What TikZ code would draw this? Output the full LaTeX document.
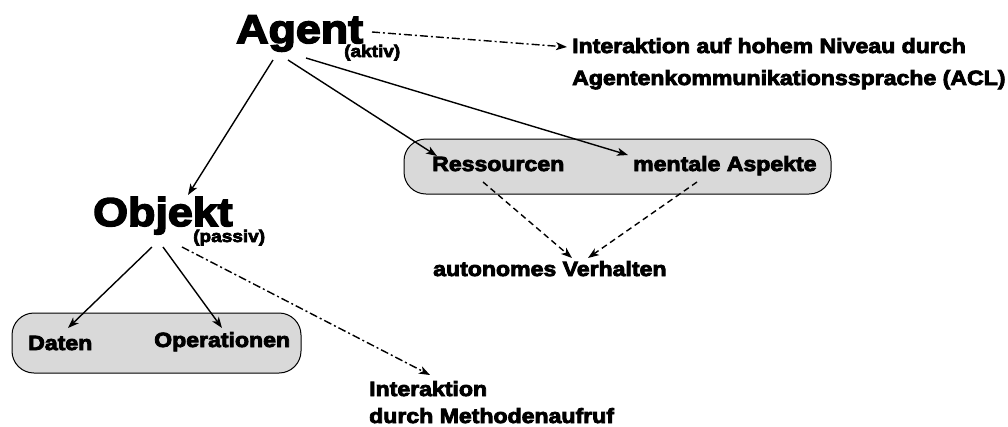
\documentclass[tikz,border=0pt]{standalone}
\usepackage{fontspec}
\setmainfont{Liberation Sans}[FakeStretch=1.12, BoldFeatures={FakeBold=4}]
\usetikzlibrary{arrows.meta}

\tikzset{
  lbl/.style={inner sep=0pt, anchor=base west, font=\bfseries\fontsize{20.6}{24}\selectfont},
  big/.style={inner sep=0pt, anchor=base west, font=\bfseries\fontsize{40}{48}\selectfont},
  sub/.style={inner sep=0pt, anchor=base west, font=\bfseries\fontsize{17}{20}\selectfont},
  group/.style={draw=black, line width=1pt, fill=gray!30, rounded corners=22pt},
  link/.style={line width=1.4pt, -{Stealth[length=11pt,width=8pt,inset=3pt]}},
  hint/.style={link, dash pattern=on 6pt off 4pt},
  talk/.style={link, dash pattern=on 8pt off 3pt on 2pt off 3pt},
}

\begin{document}
\begin{tikzpicture}[x=1pt, y=-1pt]
\useasboundingbox (0,0) rectangle (1008,426);

% grey groups behind the labels
\draw[group] (404,139) rectangle (831,194);
\draw[group] (12,313) rectangle (301,373);

% main labels
\node[big] (agent) at (236,43) {Agent};
\node[sub] (aktiv) at (344,57) {(aktiv)};
\node[big] (objekt) at (93,226) {Objekt};
\node[sub] (passiv) at (193,242) {(passiv)};

\node[lbl] (acl1) at (572,53) {Interaktion auf hohem Niveau durch};
\node[lbl] (acl2) at (572,85) {Agentenkommunikationssprache (ACL)};

\node[lbl] (res) at (432,171) {Ressourcen};
\node[lbl] (ment) at (633,171) {mentale Aspekte};
\node[lbl] (auto) at (433,276) {autonomes Verhalten};

\node[lbl] (daten) at (28,350) {Daten};
\node[lbl] (ops) at (154,347) {Operationen};

\node[lbl] (meth1) at (369,396) {Interaktion};
\node[lbl] (meth2) at (369,423) {durch Methodenaufruf};

% structure of the agent
\draw[link] ([shift={(37,17)}]agent.base west) -- ([shift={(95,-31)}]objekt.base west);
\draw[link] ([shift={(52,17)}]agent.base west) -- ([shift={(5,-15)}]res.base west);
\draw[link] ([shift={(70,15)}]agent.base west) -- ([shift={(-5,-16)}]ment.base west);

% agent communication
\draw[talk] ([shift={(136,-11)}]agent.base west) -- ([shift={(-5,-6)}]acl1.base west);

% what the agent's parts lead to
\draw[hint] ([shift={(51,11)}]res.base west) -- ([shift={(139,-18)}]auto.base west);
\draw[hint] ([shift={(64,11)}]ment.base west) -- ([shift={(155,-18)}]auto.base west);

% structure of the object
\draw[link] ([shift={(59,21)}]objekt.base west) -- ([shift={(40,-22)}]daten.base west);
\draw[link] ([shift={(70,21)}]objekt.base west) -- ([shift={(68,-19)}]ops.base west);

% object communication
\draw[talk] ([shift={(89,21)}]objekt.base west) -- ([shift={(61,-21)}]meth1.base west);
\end{tikzpicture}
\end{document}
